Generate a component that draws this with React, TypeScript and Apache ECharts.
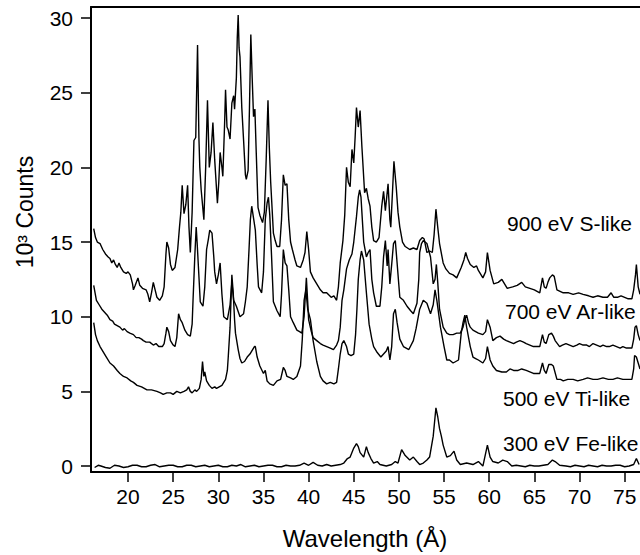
import React, { useEffect, useRef } from "react";
import * as echarts from "echarts";

const FONT = "'Liberation Sans', Arial, Helvetica, sans-serif";

const xTicks = [20, 25, 30, 35, 40, 45, 50, 55, 60, 65, 70, 75];
const yTicks = [0, 5, 10, 15, 20, 25, 30];

const seriesLabels = ["900 eV S-like", "700 eV Ar-like", "500 eV Ti-like", "300 eV Fe-like"];

const s900: number[][] = [
  [16.2,15.9],[16.4,15.3],[16.6,15.0],[16.9,14.9],[17.2,14.5],[17.5,14.2],[17.8,14.0],[18.0,13.9],[18.2,13.6],[18.4,13.8],
  [18.6,13.5],[18.8,13.3],[19.0,13.6],[19.2,13.3],[19.5,13.0],[19.8,12.9],[20.0,13.0],[20.25,12.8],[20.5,12.2],[20.6,11.8],
  [20.8,12.1],[21.1,12.6],[21.3,12.1],[21.6,11.9],[22.0,11.8],[22.2,11.5],[22.4,11.0],[22.6,11.6],[22.8,12.3],[23.0,11.8],
  [23.2,11.3],[23.5,11.1],[23.8,11.4],[24.0,12.0],[24.2,14.2],[24.3,15.0],[24.5,14.6],[24.7,13.5],[24.9,13.1],[25.2,13.3],
  [25.5,14.5],[25.7,16.0],[25.85,17.0],[26.0,18.8],[26.2,16.9],[26.4,17.5],[26.6,18.8],[26.75,16.0],[26.9,14.3],[27.1,17.0],
  [27.3,21.8],[27.5,22.0],[27.7,28.2],[27.85,22.0],[27.95,20.0],[28.1,18.5],[28.4,16.5],[28.6,20.0],[28.8,24.5],[29.0,20.0],
  [29.2,21.0],[29.4,23.0],[29.6,20.5],[29.9,17.6],[30.05,19.0],[30.2,21.0],[30.4,20.0],[30.5,19.4],[30.7,23.0],[30.8,25.2],
  [30.96,22.7],[31.1,22.5],[31.3,21.9],[31.5,24.3],[31.7,24.8],[31.8,23.9],[32.0,26.0],[32.1,28.7],[32.2,30.2],[32.3,28.0],
  [32.4,27.4],[32.6,24.0],[32.8,21.8],[33.0,19.5],[33.1,19.2],[33.3,19.8],[33.45,24.0],[33.6,28.9],[33.75,26.0],[33.9,23.4],
  [34.05,23.9],[34.2,21.0],[34.4,17.3],[34.6,16.8],[34.9,16.3],[35.1,17.0],[35.3,20.5],[35.5,24.5],[35.65,21.3],[35.8,19.0],
  [36.1,15.6],[36.3,15.1],[36.5,14.7],[36.8,14.7],[37.0,16.5],[37.2,19.5],[37.4,18.8],[37.6,18.9],[37.8,16.5],[38.0,15.0],
  [38.2,14.5],[38.5,13.8],[38.7,13.4],[39.1,13.3],[39.4,13.8],[39.6,14.3],[39.8,15.7],[40.0,14.5],[40.2,13.0],[40.5,12.6],
  [40.9,12.2],[41.3,11.8],[41.6,11.6],[42.0,11.6],[42.5,11.3],[42.8,11.4],[43.1,11.1],[43.3,12.0],[43.5,13.6],[43.8,15.1],
  [44.0,16.8],[44.2,20.0],[44.4,19.0],[44.6,18.7],[44.8,21.2],[45.0,20.3],[45.15,22.0],[45.3,24.0],[45.5,22.7],[45.7,23.8],
  [45.9,21.4],[46.2,18.3],[46.4,18.6],[46.6,17.9],[46.8,17.4],[47.0,16.0],[47.2,15.1],[47.5,15.0],[47.8,15.3],[48.1,17.4],
  [48.3,18.4],[48.5,17.1],[48.8,18.9],[49.0,16.5],[49.1,16.0],[49.3,18.5],[49.45,20.4],[49.7,18.7],[49.9,17.0],[50.1,16.0],
  [50.4,15.0],[50.7,14.7],[51.2,14.5],[51.6,14.6],[52.0,14.5],[52.3,15.1],[52.6,15.3],[52.8,15.2],[53.1,14.3],[53.4,14.4],
  [53.7,14.3],[53.9,15.5],[54.1,17.2],[54.3,16.0],[54.5,14.9],[54.9,13.6],[55.2,13.2],[55.6,12.9],[56.0,12.8],[56.4,12.6],
  [56.9,13.3],[57.2,13.8],[57.4,14.3],[57.6,13.9],[57.9,13.5],[58.3,13.3],[58.6,13.4],[58.8,13.1],[59.3,12.6],[59.6,13.0],
  [59.8,14.3],[60.1,13.1],[60.5,12.2],[61.0,12.3],[61.4,12.5],[62.0,11.9],[62.6,12.0],[63.1,12.1],[63.6,12.3],[64.0,12.0],
  [64.5,11.9],[65.0,11.8],[65.6,11.6],[65.9,12.6],[66.1,12.0],[66.3,11.9],[66.5,12.3],[66.7,12.6],[67.0,12.8],[67.2,12.7],
  [67.5,11.8],[68.2,11.6],[68.8,11.6],[69.3,11.5],[69.9,11.6],[70.4,11.5],[71.0,11.4],[71.5,11.3],[72.0,11.4],[72.6,11.3],
  [73.1,11.3],[73.5,11.6],[73.8,11.3],[74.2,11.3],[74.6,11.4],[75.0,11.3],[75.4,11.2],[75.8,11.2],[76.0,11.8],[76.2,12.8],
  [76.3,13.5],[76.5,12.0],[76.7,11.5]
];

const s700: number[][] = [
  [16.2,12.1],[16.5,11.1],[16.8,10.8],[17.1,10.5],[17.4,10.3],[17.7,10.1],[18.0,9.8],[18.3,9.7],[18.5,9.5],[18.8,9.4],
  [19.1,9.3],[19.4,9.1],[19.6,9.2],[19.9,9.0],[20.2,8.9],[20.6,8.8],[20.9,8.6],[21.2,8.6],[21.5,8.5],[21.7,8.4],
  [22.0,8.3],[22.4,8.3],[22.8,8.1],[23.1,8.2],[23.4,8.0],[23.8,8.0],[24.0,8.2],[24.2,8.9],[24.3,9.3],[24.5,9.0],
  [24.7,8.4],[25.0,8.1],[25.2,8.0],[25.4,8.6],[25.6,10.2],[25.8,9.8],[26.0,9.6],[26.3,9.1],[26.6,8.8],[26.9,8.7],
  [27.1,9.5],[27.2,11.1],[27.4,14.1],[27.55,16.0],[27.65,15.0],[27.8,13.3],[28.0,11.0],[28.3,10.7],[28.5,12.0],[28.7,14.5],
  [28.9,15.2],[29.05,15.8],[29.3,15.6],[29.5,14.0],[29.6,13.0],[29.8,12.2],[30.0,12.8],[30.2,13.6],[30.4,11.5],[30.6,10.0],
  [31.0,9.8],[31.3,10.8],[31.5,12.3],[31.7,11.1],[32.0,10.7],[32.4,10.0],[32.8,10.2],[33.0,11.0],[33.2,12.0],[33.4,14.5],
  [33.55,16.5],[33.7,17.4],[33.9,16.6],[34.1,15.8],[34.3,13.5],[34.45,12.0],[34.8,11.6],[35.0,13.0],[35.2,16.5],[35.4,17.6],
  [35.55,18.0],[35.7,16.8],[35.9,14.0],[36.1,11.0],[36.3,10.7],[36.5,10.4],[36.85,10.0],[37.0,11.5],[37.2,14.5],[37.4,13.6],
  [37.6,13.4],[37.8,11.8],[38.0,10.0],[38.3,9.6],[38.7,9.1],[39.0,9.0],[39.25,8.9],[39.5,10.0],[39.75,12.6],[39.9,11.0],
  [40.0,9.8],[40.3,9.0],[40.5,8.6],[40.9,8.4],[41.3,8.2],[41.6,8.1],[42.0,8.0],[42.4,7.9],[42.75,7.8],[43.1,8.1],
  [43.3,8.4],[43.5,9.3],[43.7,11.1],[43.9,11.8],[44.2,13.2],[44.5,13.8],[44.8,14.2],[45.0,15.0],[45.3,16.7],[45.5,18.0],
  [45.65,18.5],[45.8,18.0],[46.0,16.0],[46.1,15.0],[46.4,14.0],[46.6,14.3],[46.8,14.5],[47.0,12.5],[47.2,11.6],[47.5,10.7],
  [47.9,10.7],[48.1,12.0],[48.3,14.0],[48.5,15.1],[48.7,13.4],[48.8,14.5],[49.0,12.2],[49.2,13.5],[49.4,14.9],[49.6,15.1],
  [49.8,13.6],[50.1,11.3],[50.5,11.1],[50.9,10.7],[51.3,10.4],[51.6,10.2],[52.0,10.9],[52.2,12.5],[52.3,14.3],[52.5,14.9],
  [52.7,15.1],[53.1,14.9],[53.5,14.0],[53.8,12.2],[54.0,12.5],[54.15,13.5],[54.3,12.3],[54.5,10.5],[54.9,9.3],[55.3,8.9],
  [55.6,8.8],[56.0,8.8],[56.4,8.9],[56.8,8.9],[57.1,9.3],[57.3,9.8],[57.5,10.1],[57.7,9.6],[57.9,9.3],[58.2,9.1],
  [58.5,9.0],[58.8,8.9],[59.3,8.8],[59.6,9.0],[59.8,9.8],[60.1,9.3],[60.4,8.4],[60.8,8.6],[61.2,8.7],[61.6,8.5],
  [61.9,8.4],[62.3,8.3],[62.7,8.2],[63.0,8.3],[63.4,8.4],[63.8,8.3],[64.1,8.2],[64.5,8.1],[64.9,8.0],[65.3,8.0],
  [65.6,8.0],[65.9,8.8],[66.1,8.3],[66.3,8.2],[66.6,8.8],[66.9,8.9],[67.1,8.7],[67.3,8.4],[67.8,8.0],[68.1,8.1],
  [68.5,8.2],[68.9,8.1],[69.3,8.0],[69.7,8.1],[70.0,8.2],[70.4,8.1],[70.8,8.1],[71.1,8.0],[71.5,8.2],[71.9,8.1],
  [72.3,8.0],[72.6,8.1],[73.0,8.0],[73.3,8.0],[73.7,8.1],[74.1,8.0],[74.5,7.9],[74.8,8.0],[75.2,7.9],[75.5,7.9],
  [75.8,7.9],[76.0,8.5],[76.15,9.3],[76.3,9.4],[76.5,8.8],[76.7,8.4]
];

const s500: number[][] = [
  [16.2,9.6],[16.4,8.8],[16.6,8.4],[16.9,8.0],[17.3,7.6],[17.6,7.3],[18.0,6.9],[18.4,6.7],[18.8,6.4],[19.1,6.2],
  [19.5,6.0],[19.9,5.9],[20.3,5.7],[20.6,5.6],[21.0,5.4],[21.5,5.3],[22.1,5.1],[22.6,5.1],[23.2,5.0],[23.6,4.9],
  [23.9,4.8],[24.3,4.9],[24.7,4.9],[25.0,4.8],[25.4,5.0],[25.8,4.9],[26.2,5.0],[26.5,5.1],[26.7,5.3],[26.9,5.0],
  [27.1,4.9],[27.4,5.1],[27.6,5.0],[27.9,5.2],[28.1,5.8],[28.25,7.0],[28.4,6.0],[28.5,6.3],[28.7,5.7],[29.0,5.4],
  [29.3,5.2],[29.6,5.3],[29.8,5.2],[30.1,5.3],[30.4,5.4],[30.6,5.6],[30.8,5.8],[31.0,6.4],[31.1,7.3],[31.3,9.3],
  [31.5,12.8],[31.65,11.6],[31.8,9.8],[31.9,8.9],[32.2,7.8],[32.4,7.2],[32.6,6.9],[32.9,7.0],[33.2,7.3],[33.5,7.5],
  [33.8,7.8],[34.0,8.0],[34.1,8.0],[34.3,7.3],[34.6,6.7],[35.0,6.2],[35.2,6.4],[35.4,5.7],[35.7,5.5],[36.1,5.4],
  [36.5,5.7],[36.9,5.8],[37.2,6.6],[37.4,6.4],[37.6,6.0],[38.0,5.9],[38.3,5.8],[38.7,6.0],[39.1,6.7],[39.3,8.5],
  [39.5,11.1],[39.7,11.8],[39.9,10.5],[40.2,9.8],[40.5,8.4],[40.9,7.0],[41.3,6.0],[41.6,5.7],[42.0,5.5],[42.4,5.6],
  [42.8,5.5],[43.1,5.6],[43.3,6.5],[43.5,7.5],[43.7,8.2],[43.9,8.4],[44.2,8.0],[44.4,7.5],[44.7,7.4],[45.0,7.5],
  [45.2,8.8],[45.35,10.5],[45.5,12.5],[45.7,13.8],[45.85,14.4],[46.1,13.8],[46.4,11.6],[46.7,9.5],[47.0,8.5],[47.2,8.0],
  [47.6,7.6],[48.0,7.3],[48.3,7.5],[48.6,7.7],[48.8,8.0],[49.0,7.1],[49.2,8.0],[49.4,10.2],[49.6,10.5],[49.8,9.6],
  [50.1,8.5],[50.5,8.0],[50.8,7.9],[51.1,7.8],[51.6,8.4],[51.9,9.2],[52.3,10.5],[52.7,11.1],[53.1,10.9],[53.5,10.2],
  [53.8,10.8],[54.0,11.8],[54.2,11.1],[54.4,10.2],[54.6,9.3],[55.0,8.0],[55.3,7.1],[55.6,7.1],[56.0,6.9],[56.3,7.0],
  [56.6,7.1],[56.9,8.9],[57.1,9.6],[57.3,10.1],[57.5,9.3],[57.9,8.0],[58.2,7.3],[58.5,7.2],[58.8,7.1],[59.3,6.9],
  [59.6,7.2],[59.8,8.0],[60.1,7.1],[60.4,6.7],[60.8,6.4],[61.4,6.3],[61.9,6.3],[62.3,6.5],[62.7,6.4],[63.2,6.4],
  [63.6,6.5],[64.1,6.4],[64.5,6.3],[64.9,6.2],[65.3,6.2],[65.6,6.2],[65.9,6.9],[66.1,6.4],[66.3,6.2],[66.6,6.8],
  [66.9,6.8],[67.1,6.7],[67.5,5.8],[67.9,5.8],[68.2,5.7],[68.7,5.8],[69.3,5.8],[69.8,5.7],[70.4,5.8],[70.9,5.9],
  [71.5,5.8],[72.0,5.8],[72.6,5.9],[73.2,5.8],[73.7,5.8],[74.2,5.9],[74.8,5.8],[75.3,5.8],[75.8,5.8],[76.0,6.5],
  [76.1,7.4],[76.3,7.3],[76.5,6.9],[76.7,6.5]
];

const s300: number[][] = [
  [16.3,-0.1],[16.7,0.05],[17.0,0.0],[17.5,-0.1],[18.0,-0.15],[18.5,0.05],[19.0,0.0],[19.5,-0.1],[20.0,-0.05],[20.5,0.05],
  [21.0,0.05],[21.5,-0.05],[22.0,-0.05],[22.5,0.05],[23.0,0.1],[23.5,-0.05],[24.0,0.0],[24.5,0.05],[25.0,0.05],[25.5,-0.05],
  [26.0,-0.05],[26.5,0.05],[27.0,0.05],[27.5,-0.05],[28.0,0.0],[28.5,0.05],[29.0,-0.05],[29.5,0.0],[30.0,0.05],[30.5,-0.05],
  [31.0,-0.05],[31.5,0.05],[32.0,0.0],[32.5,0.1],[33.0,-0.05],[33.5,0.0],[34.0,0.05],[34.5,-0.05],[35.0,0.0],[35.5,0.05],
  [36.0,0.05],[36.5,-0.05],[37.0,-0.05],[37.5,0.05],[38.0,0.0],[38.5,0.0],[39.0,0.05],[39.5,0.2],[40.0,0.05],[40.5,0.25],
  [41.0,0.05],[41.5,0.0],[42.0,0.1],[42.5,0.0],[43.0,0.05],[43.5,0.1],[43.9,0.2],[44.3,0.5],[44.6,0.6],[45.0,1.2],
  [45.3,1.5],[45.5,1.3],[45.7,0.9],[46.1,0.6],[46.4,1.3],[46.6,0.9],[46.9,0.5],[47.2,0.2],[47.6,0.3],[47.9,0.1],
  [48.6,0.0],[49.2,0.1],[49.6,0.3],[49.9,0.2],[50.3,1.1],[50.5,0.9],[50.7,0.7],[51.2,0.4],[51.6,0.6],[52.0,0.3],
  [52.3,0.1],[52.7,0.2],[53.1,0.4],[53.4,0.6],[53.8,2.0],[54.1,3.9],[54.3,3.3],[54.5,2.5],[54.7,2.0],[54.9,1.4],
  [55.3,0.6],[55.7,0.7],[56.1,1.0],[56.4,0.4],[56.8,0.1],[57.5,0.2],[58.2,0.1],[58.8,0.3],[59.3,0.0],[59.8,1.4],
  [60.1,0.6],[60.4,0.3],[61.0,0.2],[61.5,0.4],[62.0,0.3],[62.5,0.0],[63.0,0.05],[63.5,0.0],[64.0,-0.05],[64.5,0.05],
  [65.0,0.0],[65.5,0.0],[66.0,0.05],[66.5,0.1],[67.0,0.4],[67.3,0.3],[67.8,0.05],[68.5,0.0],[69.0,-0.05],[69.5,0.05],
  [70.0,0.0],[70.5,-0.05],[71.0,0.05],[71.5,0.0],[72.0,-0.05],[72.5,0.05],[73.0,0.0],[73.5,0.0],[74.0,0.05],[74.5,0.05],
  [75.0,-0.05],[75.5,0.0],[76.0,0.1],[76.3,0.5],[76.6,0.1]
];

const seriesData = [s900, s700, s500, s300];
const labelPos = [
  { x: 507, y: 225 },
  { x: 505, y: 313 },
  { x: 503, y: 400 },
  { x: 503, y: 445 },
];

export default function App() {
  const ref = useRef<HTMLDivElement>(null);

  useEffect(() => {
    if (!ref.current) return;
    const chart = echarts.init(ref.current, null, { renderer: "svg" });
    const axisLineStyle = { color: "#000", width: 2 };
    chart.setOption({
      animation: false,
      backgroundColor: "#fff",
      grid: { left: 91, top: 7, right: 0, bottom: 83 },
      xAxis: [
        {
          type: "value",
          min: 15.9,
          max: 76.7,
          position: "bottom",
          axisLine: { show: true, onZero: false, lineStyle: axisLineStyle },
          axisTick: { show: true, length: 10, inside: false, lineStyle: { color: "#000", width: 1.5 }, customValues: xTicks },
          axisLabel: { show: true, customValues: xTicks, fontSize: 21, color: "#000", margin: 14, fontFamily: FONT },
          splitLine: { show: false },
        },
        {
          type: "value",
          min: 15.9,
          max: 76.7,
          position: "top",
          axisLine: { show: true, onZero: false, lineStyle: axisLineStyle },
          axisTick: { show: false },
          axisLabel: { show: false },
          splitLine: { show: false },
        },
      ],
      yAxis: {
        type: "value",
        min: -0.4,
        max: 30.74,
        axisLine: { show: true, onZero: false, lineStyle: axisLineStyle },
        axisTick: { show: true, length: 10, lineStyle: { color: "#000", width: 1.5 }, customValues: yTicks },
        axisLabel: { show: true, customValues: yTicks, fontSize: 21, color: "#000", margin: 18, fontFamily: FONT },
        splitLine: { show: false },
      },
      series: seriesData.map((d, i) => ({
        name: seriesLabels[i],
        type: "line",
        xAxisIndex: 0,
        data: d,
        symbol: "none",
        showSymbol: false,
        silent: true,
        lineStyle: { color: "#000", width: 1.4 },
      })),
      graphic: [
        ...seriesLabels.map((t, i) => ({
          type: "text",
          left: labelPos[i].x,
          top: labelPos[i].y - 12,
          silent: true,
          style: { text: t, fontSize: 21, fill: "#000", fontFamily: FONT },
        })),
        {
          type: "text",
          x: 365,
          y: 538,
          silent: true,
          style: { text: "Wavelength (Å)", fontSize: 24, fill: "#000", fontFamily: FONT, align: "center", verticalAlign: "middle" },
        },
        {
          type: "text",
          x: 25,
          y: 212,
          rotation: Math.PI / 2,
          silent: true,
          style: { text: "10³ Counts", fontSize: 23, fill: "#000", fontFamily: FONT, align: "center", verticalAlign: "middle" },
        },
      ],
    });
    return () => chart.dispose();
  }, []);

  return (
    <div
      ref={ref}
      style={{ position: "absolute", left: 0, top: 0, width: 640, height: 555, background: "#fff" }}
    />
  );
}
